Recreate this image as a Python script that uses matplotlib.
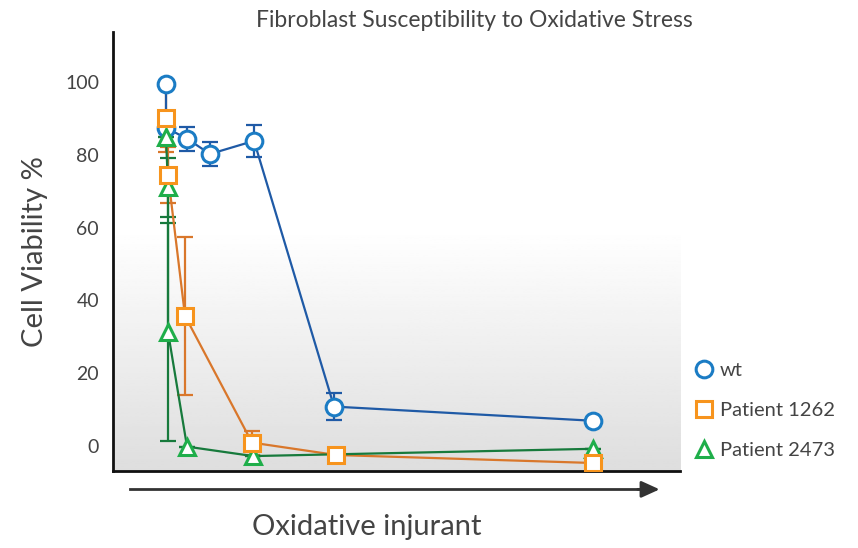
import matplotlib.pyplot as plt
import numpy as np

# dose positions (arbitrary units, no ticks on the x axis)
wt_x = [5.3, 5.3, 7.4, 9.7, 14.1, 22.1, 48.0]
wt_y = [99.5, 87.4, 84.4, 80.2, 83.8, 10.8, 6.9]
wt_err = [0, 0, 3.3, 3.2, 4.5, 3.6, 0]

p1262_x = [5.3, 5.5, 7.2, 13.9, 22.3, 48.0]
p1262_y = [90.1, 74.4, 35.7, 0.9, -2.5, -4.7]
p1262_err = [9.4, 7.6, 21.7, 3.3, 0, 0]

p2473_x = [5.3, 5.5, 5.5, 7.4, 14.0, 48.0]
p2473_y = [84.9, 71.0, 31.3, -0.2, -2.8, -0.8]
p2473_err = [0, 8.0, 30.0, 0, 0, 0]

yticks = [0, 20, 40, 60, 80, 100]

txt = '#444444'
plt.rcParams['font.family'] = ['Lato', 'DejaVu Sans']

fig = plt.figure(figsize=(8.58, 5.48), dpi=100)
ax = fig.add_axes([0.1317, 0.1405, 0.661, 0.801])

# background: white on top, fading to light grey at the bottom
t = np.linspace(0, 1, 200)
grad = np.where(t < 0.45, 1.0, 1.0 - 0.13 * ((t - 0.45) / 0.55)).reshape(-1, 1)
ax.imshow(grad, cmap='gray', vmin=0, vmax=1, aspect='auto',
          extent=[0, 1, 0, 1], transform=ax.transAxes, zorder=0)

series = [
    (wt_x, wt_y, wt_err, 'o', '#1b7cc4', '#1f5aa6', 'wt', 4),
    (p1262_x, p1262_y, p1262_err, 's', '#f7941d', '#d9772b', 'Patient 1262', 6),
    (p2473_x, p2473_y, p2473_err, '^', '#1fae4a', '#177a3c', 'Patient 2473', 5),
]
handles = []
for x, y, e, m, mc, lc, lab, z in series:
    ms = 12 if m != 's' else 11
    ax.errorbar(x, y, yerr=e, fmt='none', ecolor=lc, elinewidth=1.6,
                capsize=6, capthick=1.6, zorder=2)
    ax.plot(x, y, color=lc, lw=1.6, zorder=3)
    ax.plot(x, y, ls='none', marker=m, ms=ms,
            mfc='white', mec=mc, mew=2.2, zorder=z)
    h, = ax.plot([], [], ls='none', marker=m, ms=ms,
                 mfc='white', mec=mc, mew=2.2, label=lab)
    handles.append(h)

ax.set_xlim(0, 56.7)
ax.set_ylim(-6.9, 113.7)
ax.set_xticks([])
ax.set_yticks(yticks)
ax.tick_params(axis='y', length=0, pad=10, labelsize=14, labelcolor=txt)
for s in ['top', 'right']:
    ax.spines[s].set_visible(False)
for s in ['left', 'bottom']:
    ax.spines[s].set_linewidth(2)
    ax.spines[s].set_color('#111111')

ax.set_ylabel('Cell Viability %', fontsize=21, color=txt, labelpad=12)
fig.text(0.553, 0.962, 'Fibroblast Susceptibility to Oxidative Stress',
         ha='center', va='center', fontsize=16.5, color=txt)
fig.text(0.428, 0.038, 'Oxidative injurant', ha='center', va='center',
         fontsize=21, color=txt)

fig.add_artist(plt.Line2D([0.152, 0.76], [0.107, 0.107], color='#333333', lw=2))
ax.annotate('', xy=(0.772, 0.107), xytext=(0.74, 0.107),
            xycoords='figure fraction', textcoords='figure fraction',
            arrowprops=dict(arrowstyle='-|>,head_length=1.1,head_width=0.5',
                            color='#333333', lw=2))

fig.legend(handles=handles, loc='upper left', bbox_to_anchor=(0.797, 0.355),
           frameon=False, fontsize=14.5, labelcolor=txt, handletextpad=0.2,
           handlelength=1.2, labelspacing=1.15, borderaxespad=0)

fig.savefig('out.png', dpi=100)
